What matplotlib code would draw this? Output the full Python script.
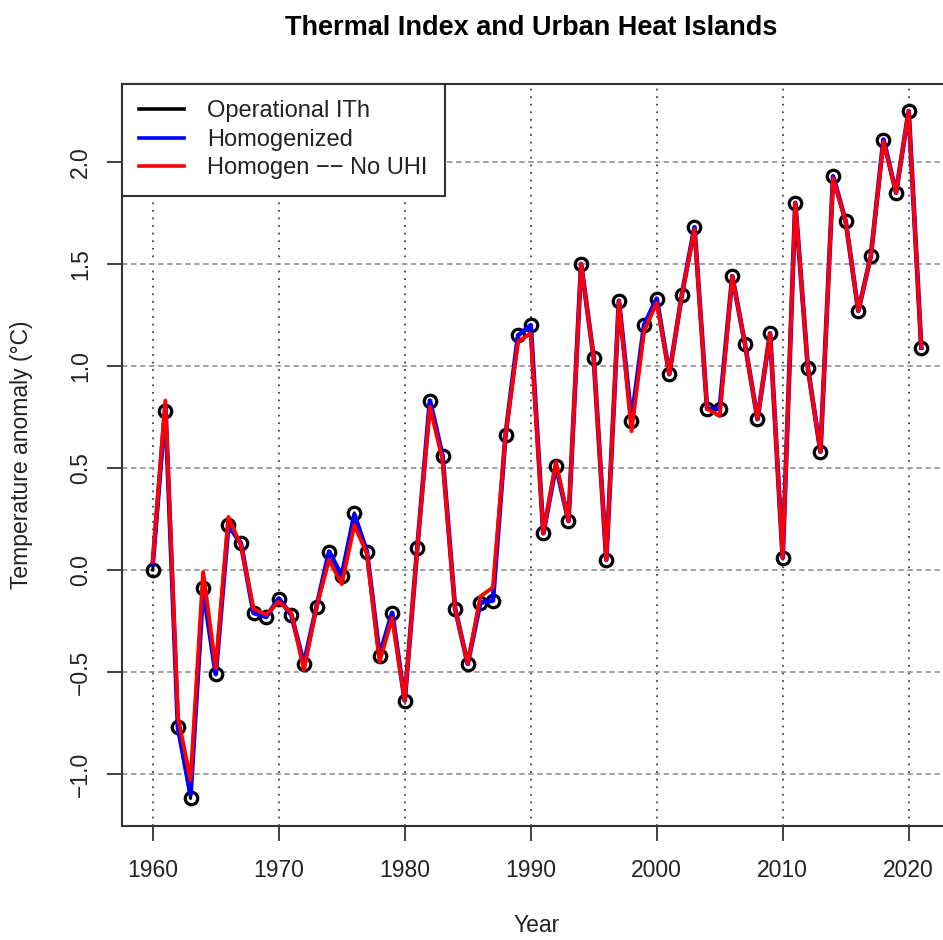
import matplotlib
matplotlib.use("Agg")
import matplotlib.pyplot as plt
from matplotlib.lines import Line2D

plt.rcParams['font.family'] = ['Liberation Sans', 'DejaVu Sans']

years = list(range(1960, 2022))

operational = [0.00, 0.78, -0.77, -1.12, -0.09, -0.51, 0.22, 0.13, -0.21, -0.23,
               -0.14, -0.22, -0.46, -0.18, 0.09, -0.03, 0.28, 0.09, -0.42, -0.21,
               -0.64, 0.11, 0.83, 0.56, -0.19, -0.46, -0.16, -0.15, 0.66, 1.15,
               1.20, 0.18, 0.51, 0.24, 1.50, 1.04, 0.05, 1.32, 0.73, 1.20,
               1.33, 0.96, 1.35, 1.68, 0.79, 0.79, 1.44, 1.11, 0.74, 1.16,
               0.06, 1.80, 0.99, 0.58, 1.93, 1.71, 1.27, 1.54, 2.11, 1.85,
               2.25, 1.09]

homogenized = [0.03, 0.80, -0.77, -1.10, -0.09, -0.51, 0.22, 0.13, -0.21, -0.23,
               -0.14, -0.22, -0.46, -0.18, 0.09, -0.03, 0.27, 0.09, -0.42, -0.21,
               -0.64, 0.11, 0.83, 0.56, -0.19, -0.46, -0.16, -0.15, 0.66, 1.15,
               1.20, 0.18, 0.51, 0.24, 1.50, 1.04, 0.05, 1.32, 0.73, 1.20,
               1.33, 0.96, 1.35, 1.68, 0.79, 0.79, 1.44, 1.11, 0.74, 1.16,
               0.06, 1.80, 0.99, 0.58, 1.93, 1.71, 1.27, 1.54, 2.11, 1.85,
               2.25, 1.09]

no_uhi = [0.04, 0.83, -0.72, -1.03, -0.01, -0.48, 0.26, 0.12, -0.19, -0.22,
          -0.155, -0.21, -0.49, -0.18, 0.05, -0.07, 0.22, 0.08, -0.45, -0.235,
          -0.64, 0.11, 0.80, 0.54, -0.19, -0.46, -0.13, -0.085, 0.66, 1.12,
          1.16, 0.18, 0.53, 0.24, 1.50, 1.04, 0.05, 1.32, 0.68, 1.17,
          1.31, 0.96, 1.35, 1.67, 0.79, 0.755, 1.44, 1.11, 0.74, 1.16,
          0.06, 1.80, 0.99, 0.58, 1.92, 1.71, 1.27, 1.54, 2.10, 1.85,
          2.25, 1.09]

series_labels = ["Operational ITh", "Homogenized", "Homogen \u2212\u2212 No UHI"]
xticks = [1960, 1970, 1980, 1990, 2000, 2010, 2020]
yticks = [-1.0, -0.5, 0.0, 0.5, 1.0, 1.5, 2.0]

W, H = 943, 940
fig = plt.figure(figsize=(W / 100, H / 100), dpi=100)
L, R, T, B = 122, 952, 83.5, 826
ax = fig.add_axes([L / W, 1 - B / H, (R - L) / W, (B - T) / H])

ax.set_xlim(1957.56, 2023.44)
ax.set_ylim(-1.255, 2.385)

# grid
for xv in xticks:
    ax.axvline(xv, color='#444444', lw=1.3, dashes=(1, 3.2), zorder=1)
for yv in yticks:
    ax.axhline(yv, color='#9a9a9a', lw=1.3, dashes=(3, 2), zorder=1)

ax.plot(years, operational, color='black', lw=2.2, marker='o', ms=9,
        mfc='none', mec='black', mew=2.3, zorder=3)
ax.plot(years, homogenized, color='blue', lw=3.4, zorder=4)
ax.plot(years, no_uhi, color='red', lw=2.8, zorder=5)

ax.set_xticks(xticks)
ax.set_xticklabels([str(v) for v in xticks])
ax.set_yticks(yticks)
ax.set_yticklabels([f"{v:.1f}".replace('-', '\u2212') for v in yticks],
                   rotation=90, va='center')
ax.tick_params(axis='both', direction='out', length=10.5, width=1.2,
               labelsize=16.5, colors='#222222')
ax.tick_params(axis='x', pad=13)
ax.tick_params(axis='y', pad=11)
for sp in ax.spines.values():
    sp.set_linewidth(1.5)
    sp.set_color('#333333')

handles = [Line2D([0], [0], color=c, lw=2.6) for c in ['black', 'blue', 'red']]
leg = ax.legend(handles, series_labels, loc='upper left', bbox_to_anchor=(0, 1),
                borderaxespad=0, fancybox=False, framealpha=1, edgecolor='#333333',
                fontsize=17, handlelength=1.9, handletextpad=1.0,
                labelspacing=0.27, borderpad=0.72)
leg.get_frame().set_linewidth(1.5)
leg.set_zorder(10)
for t in leg.get_texts():
    t.set_color('#222222')

fig.text(531 / W, 1 - 35 / H, "Thermal Index and Urban Heat Islands",
         ha='center', va='baseline', fontsize=19.5, fontweight='bold')
fig.text(537 / W, 1 - 925 / H, "Year", ha='center', va='center', fontsize=16.5,
         color='#222222')
fig.text(22 / W, 1 - 455 / H, "Temperature anomaly (\u00b0C)", ha='center',
         va='center', rotation=90, fontsize=16.5, color='#222222')

fig.savefig("out.png", dpi=100)
